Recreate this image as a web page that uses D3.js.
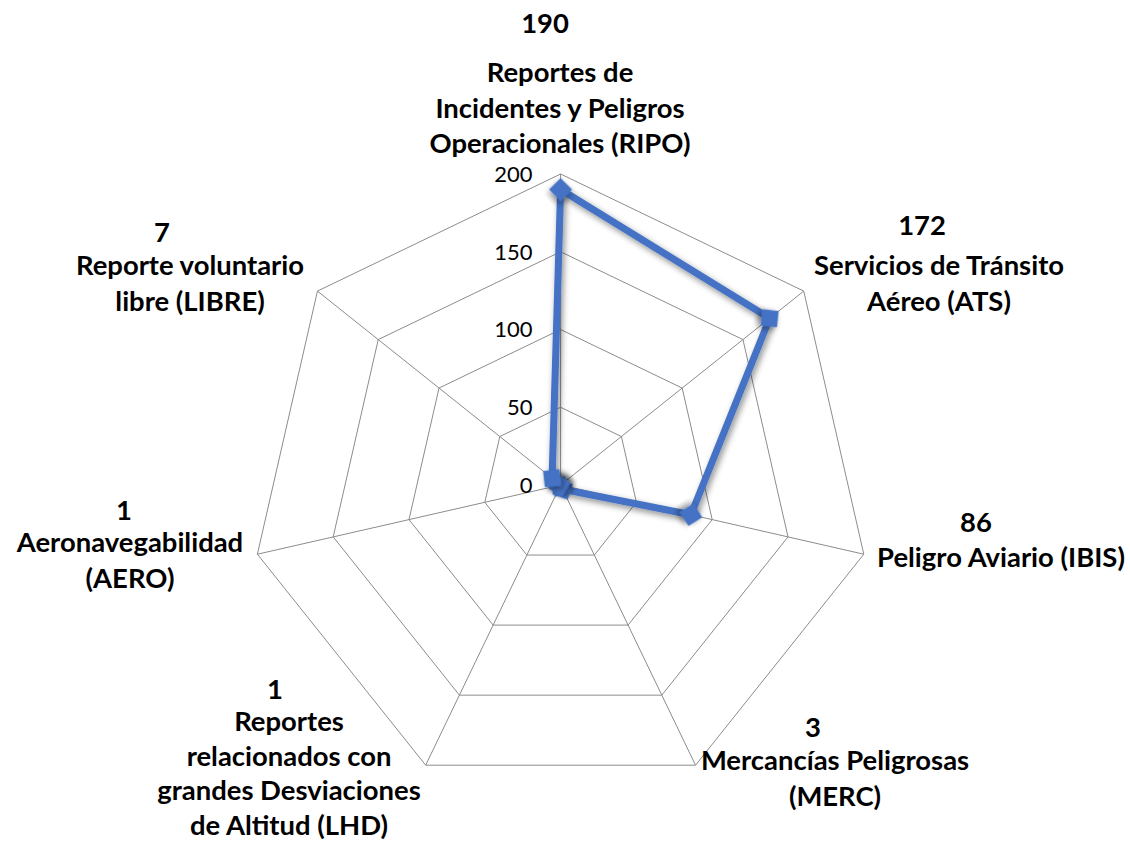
<!DOCTYPE html>
<html>
<head>
<meta charset="utf-8">
<script src="https://cdn.jsdelivr.net/npm/d3@7"></script>
<style>
  html, body { margin: 0; padding: 0; background: #fff; }
  svg { display: block; }
</style>
</head>
<body>
<svg id="chart" width="1130" height="845"></svg>
<script>
// ---- data ----
const categories = [
  "Reportes de Incidentes y Peligros Operacionales (RIPO)",
  "Servicios de Tránsito Aéreo (ATS)",
  "Peligro Aviario (IBIS)",
  "Mercancías Peligrosas (MERC)",
  "Reportes relacionados con grandes Desviaciones de Altitud (LHD)",
  "Aeronavegabilidad (AERO)",
  "Reporte voluntario libre (LIBRE)"
];
const categoryLines = [
  ["Reportes de", "Incidentes y Peligros", "Operacionales (RIPO)"],
  ["Servicios de Tránsito", "Aéreo (ATS)"],
  ["Peligro Aviario (IBIS)"],
  ["Mercancías Peligrosas", "(MERC)"],
  ["Reportes", "relacionados con", "grandes Desviaciones", "de Altitud (LHD)"],
  ["Aeronavegabilidad", "(AERO)"],
  ["Reporte voluntario", "libre (LIBRE)"]
];
const values = [190, 172, 86, 3, 1, 1, 7];
const tickValues = [0, 50, 100, 150, 200];

// ---- layout ----
const cx = 560.6, cy = 485, R = 311;
const labelLayout = [ // block centre x, first baseline y, value-line dx, gap to name, line height
  {x: 560, y: 33,  vdx: -15, gap: 49, lh: 35.5},
  {x: 939, y: 235, vdx: -17, gap: 40, lh: 35.5},
  {x: 1001, y: 532, vdx: -25, gap: 35, lh: 35.5},
  {x: 835, y: 737, vdx: -22, gap: 33, lh: 35.5},
  {x: 289, y: 699, vdx: -14, gap: 32, lh: 34.5},
  {x: 130, y: 520, vdx: -6, gap: 32, lh: 35.5},
  {x: 190, y: 242, vdx: -28, gap: 33, lh: 35.5}
];

const svg = d3.select("#chart");
const n = categories.length;
const r = d3.scaleLinear().domain([0, 200]).range([0, R]);
const angle = d3.scalePoint().domain(d3.range(n)).range([0, 2 * Math.PI * (n - 1) / n]);
const pt = (i, v) => [cx + r(v) * Math.sin(angle(i)), cy - r(v) * Math.cos(angle(i))];

// rings
const g = svg.append("g");
tickValues.filter(t => t > 0).forEach(t => {
  g.append("polygon")
    .attr("points", d3.range(n).map(i => pt(i, t).join(",")).join(" "))
    .attr("fill", "none").attr("stroke", "#8c8c8c").attr("stroke-width", 1);
});
// spokes
d3.range(n).forEach(i => {
  const p = pt(i, 200);
  g.append("line").attr("x1", cx).attr("y1", cy).attr("x2", p[0]).attr("y2", p[1])
    .attr("stroke", "#8c8c8c").attr("stroke-width", 1);
});

// tick labels
g.selectAll("text.tick").data(tickValues).join("text")
  .attr("class", "tick")
  .attr("x", cx - 28)
  .attr("y", d => cy - r(d))
  .attr("dy", "0.36em")
  .attr("text-anchor", "end")
  .attr("font-family", "Lato, 'Open Sans', sans-serif")
  .attr("font-size", 22)
  .attr("fill", "#000")
  .text(d => d);

// shadow filter
const defs = svg.append("defs");
const f = defs.append("filter").attr("id", "sh").attr("x", "-50%").attr("y", "-50%").attr("width", "200%").attr("height", "200%");
f.append("feDropShadow").attr("dx", 2).attr("dy", 3).attr("stdDeviation", 3).attr("flood-color", "#000").attr("flood-opacity", 0.45);

// series line
const lineGen = d3.lineRadial().angle((d, i) => angle(i)).radius(d => r(d)).curve(d3.curveLinearClosed);
svg.append("path")
  .attr("transform", `translate(${cx},${cy})`)
  .attr("d", lineGen(values))
  .attr("fill", "none")
  .attr("stroke", "#4472C4")
  .attr("stroke-width", 7)
  .attr("stroke-linejoin", "round")
  .attr("filter", "url(#sh)");

// markers
svg.selectAll("path.mk").data(values).join("path")
  .attr("class", "mk")
  .attr("transform", (d, i) => { const p = pt(i, d); return `translate(${p[0]},${p[1]}) rotate(${angle(i) * 180 / Math.PI + 45})`; })
  .attr("d", d3.symbol().type(d3.symbolSquare).size(240))
  .attr("fill", "#4472C4")
  .attr("stroke", "#4472C4")
  .attr("stroke-width", 1)
  .attr("filter", "url(#sh)");

// category labels
const font = "Lato, 'Open Sans', sans-serif";
const probe = svg.append("text").attr("font-family", font).attr("font-weight", "bold").attr("font-size", 100).text("Peligro Aviario (IBIS)");
const fs = 100 * 248 / probe.node().getComputedTextLength();
probe.remove();

const lg = svg.append("g").attr("font-family", font).attr("font-weight", "bold").attr("font-size", fs).attr("fill", "#000").attr("text-anchor", "middle");
categoryLines.forEach((lines, i) => {
  const L = labelLayout[i];
  lg.append("text").attr("x", L.x + L.vdx).attr("y", L.y).text(values[i]);
  lines.forEach((t, k) => {
    lg.append("text").attr("x", L.x).attr("y", L.y + L.gap + k * L.lh).text(t);
  });
});
</script>
</body>
</html>
